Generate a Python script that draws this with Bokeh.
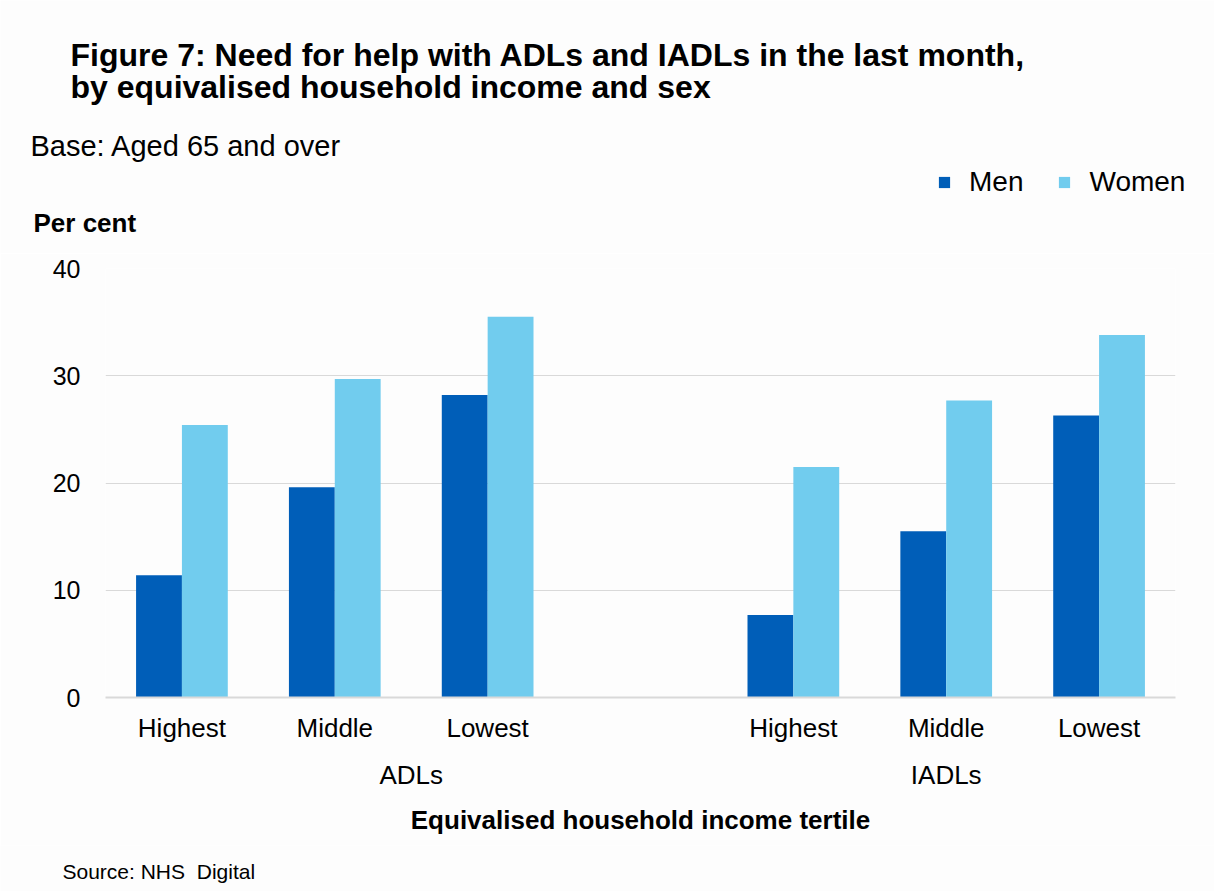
from bokeh.plotting import figure
from bokeh.models import (ColumnDataSource, Label, Legend, LegendItem, FixedTicker,
                          Range1d, LinearAxis)
from bokeh.layouts import column
from bokeh.embed import file_html
from bokeh.resources import INLINE

# ---- data ----
groups = ["ADLs", "IADLs"]
tertiles = ["Highest", "Middle", "Lowest"]
men = [11.4, 19.6, 28.2, 7.7, 15.5, 26.3]
women = [25.4, 29.7, 35.5, 21.5, 27.7, 33.8]
y_ticks = [0, 10, 20, 30, 40]
series = ["Men", "Women"]

MEN_COL = "#005EB8"
WOMEN_COL = "#71CCEE"
FONT = "Liberation Sans"
BG = "#FDFDFD"

W = 1214
HEAD_H = 253
FOOT_H = 46
MAIN_H = 891 - HEAD_H - FOOT_H
NSLOT = 7
TXT_SHIFT = -8  # baseline correction for text canvases


def text_canvas(h):
    f = figure(width=W, height=h, output_backend="svg", toolbar_location=None,
               x_range=Range1d(0, W), y_range=Range1d(h, 0),
               x_axis_type=None, y_axis_type=None, title=None,
               min_border=0, min_border_left=0, min_border_right=0,
               min_border_top=0, min_border_bottom=0, frame_align=False)
    f.background_fill_color = BG
    f.border_fill_color = BG
    f.outline_line_color = None
    f.xgrid.visible = False
    f.ygrid.visible = False
    return f


def lab(f, text, x, y, size, bold=False, align="left"):
    f.add_layout(Label(x=x, y=y + TXT_SHIFT, text=text, text_font=FONT,
                       text_font_size=size,
                       text_font_style="bold" if bold else "normal",
                       text_align=align, text_baseline="alphabetic",
                       text_color="#000000"))


# ---------- header ----------
head = text_canvas(HEAD_H)
lab(head, "Figure 7: Need for help with ADLs and IADLs in the last month,", 70, 62, "32px", True)
lab(head, "by equivalised household income and sex", 70, 94, "32px", True)
lab(head, "Base: Aged 65 and over", 30, 153, "29px")
lab(head, "Per cent", 33, 230, "26px", True)

# zero-size proxy bars that only carry the legend swatch styles
proxy = ColumnDataSource(dict(x=[0], top=[0]))
lm = head.vbar(x="x", top="top", width=0, source=proxy, color=MEN_COL, line_color=None)
lw = head.vbar(x="x", top="top", width=0, source=proxy, color=WOMEN_COL, line_color=None)
legend = Legend(items=[LegendItem(label=series[0], renderers=[lm], index=0),
                       LegendItem(label=series[1], renderers=[lw], index=0)],
                orientation="horizontal", location=(937, 55),
                label_text_font=FONT, label_text_font_size="28px",
                label_text_color="#000000",
                glyph_width=14, glyph_height=14, label_standoff=18, spacing=34,
                padding=0, margin=0, border_line_color=None,
                background_fill_alpha=0)
head.add_layout(legend, "center")

# ---------- main chart ----------
centers = []
labels = []
for gi, g in enumerate(groups):
    for ti, t in enumerate(tertiles):
        centers.append(gi * 4 + ti + 0.5)
        labels.append(t)
group_centers = [2.0, 5.5]

src = ColumnDataSource(dict(
    xm=[c - 0.15 for c in centers],
    xw=[c + 0.15 for c in centers],
    men=men, women=women))

p = figure(width=W, height=MAIN_H, output_backend="svg", toolbar_location=None,
           x_range=Range1d(0, NSLOT), y_range=Range1d(0, 40), title=None,
           min_border_left=105, min_border_right=39,
           min_border_top=15, min_border_bottom=148, frame_align=False)
p.background_fill_color = BG
p.border_fill_color = BG
p.outline_line_color = None

p.vbar(x="xm", top="men", width=0.3, source=src, color=MEN_COL, line_color=None)
p.vbar(x="xw", top="women", width=0.3, source=src, color=WOMEN_COL, line_color=None)

p.yaxis.ticker = FixedTicker(ticks=y_ticks)
p.yaxis.axis_line_color = None
p.yaxis.major_tick_line_color = None
p.yaxis.minor_tick_line_color = None
p.yaxis.major_label_text_font = FONT
p.yaxis.major_label_text_font_size = "25px"
p.yaxis.major_label_text_color = "#000000"
p.yaxis.major_label_standoff = 19

p.xaxis.ticker = FixedTicker(ticks=centers)
p.xaxis.major_label_overrides = {c: l for c, l in zip(centers, labels)}
p.xaxis.axis_line_color = "#D9D9D9"
p.xaxis.axis_line_width = 2
p.xaxis.major_tick_line_color = None
p.xaxis.minor_tick_line_color = None
p.xaxis.major_label_text_font = FONT
p.xaxis.major_label_text_font_size = "26px"
p.xaxis.major_label_text_color = "#000000"
p.xaxis.major_label_standoff = 9

gax = LinearAxis(ticker=FixedTicker(ticks=group_centers),
                 major_label_overrides={c: g for c, g in zip(group_centers, groups)},
                 axis_line_color=None, major_tick_line_color=None,
                 minor_tick_line_color=None,
                 major_label_text_font=FONT, major_label_text_font_size="26px",
                 major_label_text_color="#000000", major_label_standoff=8,
                 axis_label="Equivalised household income tertile",
                 axis_label_text_font=FONT, axis_label_text_font_size="26px",
                 axis_label_text_font_style="bold", axis_label_text_color="#000000",
                 axis_label_standoff=12)
p.add_layout(gax, "below")

p.xgrid.grid_line_color = None
p.ygrid.grid_line_color = "#D9D9D9"
p.ygrid.grid_line_width = 1

# ---------- footer ----------
foot = text_canvas(FOOT_H)
lab(foot, "Source: NHS\u00a0 Digital", 62, 34, "21px")

layout = column(head, p, foot, spacing=0)
open("out.html", "w").write(file_html(layout, INLINE))
